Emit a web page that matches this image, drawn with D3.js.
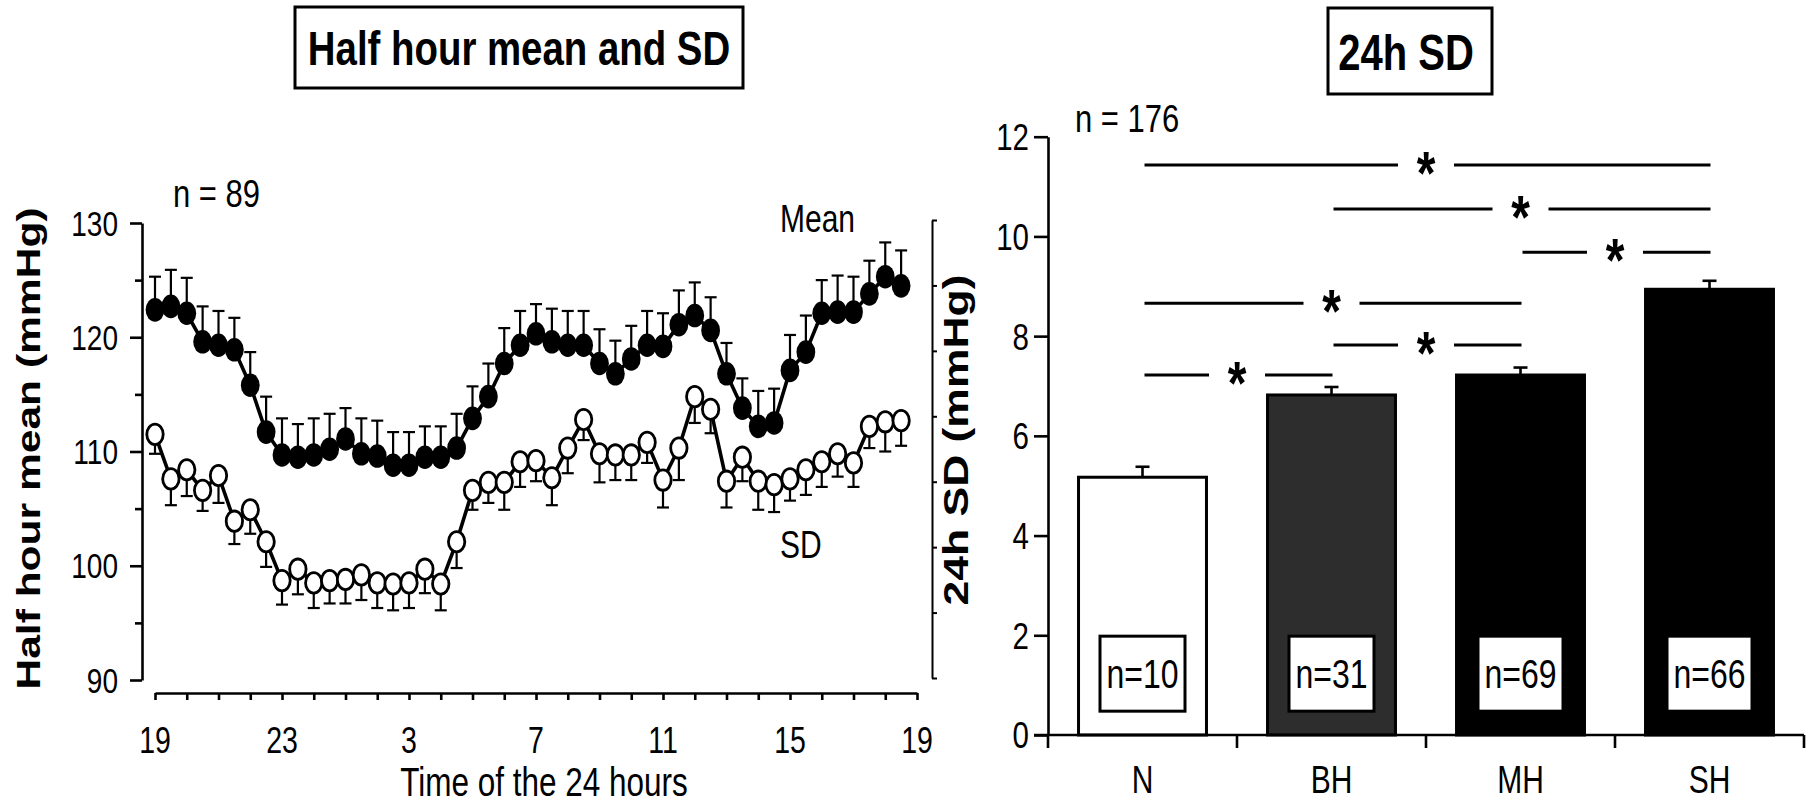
<!DOCTYPE html>
<html><head><meta charset="utf-8">
<script src="https://cdn.jsdelivr.net/npm/d3@7"></script>
<style>
html,body{margin:0;padding:0;background:#fff;}
svg{display:block;}
text{font-family:"Liberation Sans",Arial,sans-serif;fill:#000;}
</style>
</head><body>
<svg id="chart" width="1814" height="805"></svg>
<script>
// ---------- Data: left panel (half-hour values, hours after 19:00) ----------
const slotHours = [0,0.5,1,1.5,2,2.5,3,3.5,4,4.5,5,5.5,6,6.5,7,7.5,8,8.5,9,9.5,10,10.5,11,11.5,
                   12,12.5,13,13.5,14,14.5,15,15.5,16,16.5,17,17.5,18,18.5,19,19.5,20,20.5,21,21.5,22,22.5,23,23.5];
const meanValues = [122.4,122.7,122.1,119.6,119.3,118.9,115.8,111.7,109.7,109.5,
                    109.7,110.2,111.1,109.8,109.6,108.8,108.8,109.5,109.5,110.3,
                    112.9,114.8,117.7,119.3,120.3,119.6,119.3,119.3,117.7,116.8,
                    118.1,119.3,119.2,121.1,121.9,120.6,116.8,113.8,112.2,112.5,
                    117.1,118.7,122.1,122.2,122.2,123.8,125.3,124.5];
const meanErrors = [2.9,3.2,3.1,3.1,3.0,2.8,2.9,3.1,3.2,2.9,
                    3.2,3.1,2.7,3.1,3.1,2.9,2.9,2.7,2.7,3.0,
                    2.8,2.9,3.1,3.0,2.6,2.9,3.0,3.0,3.0,2.9,
                    2.9,3.0,2.9,3.0,2.9,2.9,2.7,2.6,3.1,3.0,
                    3.1,3.2,2.9,3.2,3.1,2.9,3.0,3.1];
const sdValues = [111.5,107.6,108.4,106.6,107.9,103.9,104.9,102.1,98.7,99.7,
                  98.5,98.7,98.8,99.2,98.5,98.4,98.5,99.7,98.4,102.1,
                  106.6,107.3,107.3,109.1,109.2,107.7,110.3,112.8,109.8,109.7,
                  109.7,110.8,107.5,110.3,114.8,113.7,107.4,109.5,107.4,107.1,
                  107.6,108.4,109.1,109.8,109.0,112.2,112.6,112.7];
const sdErrors = [1.7,2.3,2.3,1.8,2.4,2.0,2.1,2.2,2.1,2.2,
                  2.2,2.0,2.1,2.2,2.2,2.3,2.2,2.1,2.3,2.3,
                  1.7,1.8,2.4,2.2,1.8,2.4,2.2,1.8,2.5,2.2,
                  2.2,1.8,2.4,2.8,2.3,2.1,2.3,2.1,2.5,2.4,
                  1.9,2.2,2.2,2.0,2.1,1.9,2.6,2.2];
const xTickHours = [0,4,8,12,16,20,24];
const xTickLabels = ["19","23","3","7","11","15","19"];
const yLeftMajor = [90,100,110,120,130];
const yLeftMinor = [95,105,115,125];

// ---------- Data: right panel ----------
const groups = ["N","BH","MH","SH"];
const sd24 = [5.17,6.82,7.22,8.94];
const sd24Err = [0.21,0.16,0.15,0.17];
const groupN = ["n=10","n=31","n=69","n=66"];
const groupFill = ["#ffffff","#2d2d2d","#000000","#000000"];
const yRightTicks = [0,2,4,6,8,10,12];
const sigFrom = ["N","BH","MH","N","BH","N"];
const sigTo   = ["SH","SH","SH","MH","MH","BH"];
const sigLevel = [11.43,10.55,9.68,8.66,7.82,7.22];

// ---------- Helpers ----------
const SY = 1.27; // vertical stretch of the source picture
const svg = d3.select("#chart");
function label(g, x, y, str, size, opts = {}) {
  return g.append("text")
    .attr("transform", `translate(${x},${y}) scale(1,${SY})` + (opts.rotate ? " rotate(-90)" : ""))
    .attr("text-anchor", opts.anchor || "middle")
    .attr("font-size", size)
    .attr("font-weight", opts.bold ? "bold" : "normal")
    .text(str);
}
function styleAxis(g, w) {
  g.selectAll("path,line").attr("stroke", "#000").attr("stroke-width", w);
  g.selectAll("text").remove();
}

// ================= LEFT PANEL =================
const L = svg.append("g");
const xL = d3.scaleLinear([0, 24], [155, 917]);
const yL = d3.scaleLinear([90, 130], [680, 223]);

// Title box
L.append("rect").attr("x", 295).attr("y", 7).attr("width", 448).attr("height", 81)
  .attr("fill", "none").attr("stroke", "#000").attr("stroke-width", 3);
label(L, 519, 65, "Half hour mean and SD", 38.4, {bold: true});

// Y axis
const gyL = L.append("g").attr("transform", "translate(142,0)")
  .call(d3.axisLeft(yL).tickValues(yLeftMajor).tickSize(12).tickSizeOuter(0));
styleAxis(gyL, 2.6);
const gyLm = L.append("g").attr("transform", "translate(142,0)")
  .call(d3.axisLeft(yL).tickValues(yLeftMinor).tickSize(7).tickSizeOuter(0));
styleAxis(gyLm, 2.6);
gyLm.select(".domain").remove();
yLeftMajor.forEach(v => label(L, 118, yL(v) + 0.716 * 28 * SY / 2, String(v), 28, {anchor: "end"}));

// X axis
const gxL = L.append("g").attr("transform", "translate(0,693)")
  .call(d3.axisBottom(xL).tickValues(d3.range(0, 25)).tickSize(7).tickSizeOuter(0));
styleAxis(gxL, 2.6);
xTickHours.forEach((h, i) => label(L, xL(h), 753, xTickLabels[i], 28.5));
label(L, 544, 796, "Time of the 24 hours", 31.5);
label(L, 40, 448.5, "Half hour mean (mmHg)", 33.5, {bold: true, rotate: true});
label(L, 173, 207, "n = 89", 31, {anchor: "start"});
label(L, 780, 231.7, "Mean", 30, {anchor: "start"});
label(L, 780, 558, "SD", 30, {anchor: "start"});

// Right frame line with small ticks
const yFrame = d3.scaleLinear([0, 7], [678, 220]);
const gFrame = L.append("g").attr("transform", "translate(932,0)")
  .call(d3.axisRight(yFrame).ticks(7).tickSize(5).tickSizeOuter(0));
styleAxis(gFrame, 2);

// Series
const meanData = slotHours.map((h, i) => ({h, v: meanValues[i], e: meanErrors[i]}));
const sdData = slotHours.map((h, i) => ({h, v: sdValues[i], e: sdErrors[i]}));
const line = d3.line().x(d => xL(d.h)).y(d => yL(d.v));
[meanData, sdData].forEach(data => {
  L.append("path").datum(data).attr("d", line)
    .attr("fill", "none").attr("stroke", "#000").attr("stroke-width", 3.6).attr("stroke-linejoin", "round");
});
// error bars: mean upward, SD downward
function errBars(data, dir) {
  const g = L.append("g").attr("stroke", "#000").attr("stroke-width", 2.2);
  g.selectAll("line.s").data(data).join("line")
    .attr("x1", d => xL(d.h)).attr("x2", d => xL(d.h))
    .attr("y1", d => yL(d.v)).attr("y2", d => yL(d.v + dir * d.e));
  g.selectAll("line.c").data(data).join("line")
    .attr("x1", d => xL(d.h) - 6).attr("x2", d => xL(d.h) + 6)
    .attr("y1", d => yL(d.v + dir * d.e)).attr("y2", d => yL(d.v + dir * d.e));
}
errBars(meanData, 1);
errBars(sdData, -1);
L.append("g").selectAll("ellipse").data(meanData).join("ellipse")
  .attr("cx", d => xL(d.h)).attr("cy", d => yL(d.v)).attr("rx", 9.4).attr("ry", 11.8)
  .attr("fill", "#000");
L.append("g").selectAll("ellipse").data(sdData).join("ellipse")
  .attr("cx", d => xL(d.h)).attr("cy", d => yL(d.v)).attr("rx", 8.2).attr("ry", 10.2)
  .attr("fill", "#fff").attr("stroke", "#000").attr("stroke-width", 2.8);

// ================= RIGHT PANEL =================
const R = svg.append("g");
const xB = d3.scaleBand(groups, [1048, 1804]).paddingInner(0.323).paddingOuter(0.1615);
const yB = d3.scaleLinear([0, 12], [735, 136.7]);
const bw = xB.bandwidth();
const cx = g => xB(g) + bw / 2;

R.append("rect").attr("x", 1328).attr("y", 8).attr("width", 164).attr("height", 86)
  .attr("fill", "none").attr("stroke", "#000").attr("stroke-width", 3);
label(R, 1406, 70, "24h SD", 40, {bold: true});
label(R, 1075, 132, "n = 176", 31, {anchor: "start"});
label(R, 968, 440, "24h SD (mmHg)", 35, {bold: true, rotate: true});

// bars
R.append("g").selectAll("rect").data(groups).join("rect")
  .attr("x", g => xB(g)).attr("width", bw)
  .attr("y", (g, i) => yB(sd24[i])).attr("height", (g, i) => yB(0) - yB(sd24[i]))
  .attr("fill", (g, i) => groupFill[i]).attr("stroke", "#000").attr("stroke-width", 3);
// error bars
const ge = R.append("g").attr("stroke", "#000").attr("stroke-width", 2.6);
groups.forEach((g, i) => {
  ge.append("line").attr("x1", cx(g)).attr("x2", cx(g)).attr("y1", yB(sd24[i])).attr("y2", yB(sd24[i] + sd24Err[i]));
  ge.append("line").attr("x1", cx(g) - 7).attr("x2", cx(g) + 7).attr("y1", yB(sd24[i] + sd24Err[i])).attr("y2", yB(sd24[i] + sd24Err[i]));
});
// n boxes
groups.forEach((g, i) => {
  const yc = yB(1.23);
  R.append("rect").attr("x", cx(g) - 42.5).attr("y", yc - 37.5).attr("width", 85).attr("height", 75)
    .attr("fill", "#fff").attr("stroke", "#000").attr("stroke-width", 3);
  label(R, cx(g), yc + 0.716 * 32 * SY / 2, groupN[i], 32);
});

// axes
const gyB = R.append("g").attr("transform", "translate(1048,0)")
  .call(d3.axisLeft(yB).tickValues(yRightTicks).tickSize(14).tickSizeOuter(0));
styleAxis(gyB, 2.6);
yRightTicks.forEach(v => label(R, 1029, yB(v) + 0.716 * 29.5 * SY / 2, String(v), 29.5, {anchor: "end"}));
const step = xB.step(), pIn = xB.paddingInner();
const bounds = groups.map(g => xB(g) - step * pIn / 2).concat([xB(groups[groups.length - 1]) + bw + step * pIn / 2]);
R.append("line").attr("x1", 1034).attr("x2", bounds[bounds.length - 1]).attr("y1", yB(0)).attr("y2", yB(0))
  .attr("stroke", "#000").attr("stroke-width", 2.6);
R.append("g").selectAll("line").data(bounds).join("line")
  .attr("x1", d => d).attr("x2", d => d).attr("y1", yB(0)).attr("y2", yB(0) + 13)
  .attr("stroke", "#000").attr("stroke-width", 2.6);
groups.forEach(g => label(R, cx(g), 793, g, 30));

// significance lines
const gap = 28;
sigFrom.forEach((f, i) => {
  const x1 = cx(f) + 2, x2 = cx(sigTo[i]) + 1, xm = (cx(f) + cx(sigTo[i])) / 2, yy = yB(sigLevel[i]);
  R.append("line").attr("x1", x1).attr("x2", xm - gap).attr("y1", yy).attr("y2", yy).attr("stroke", "#000").attr("stroke-width", 3);
  R.append("line").attr("x1", xm + gap).attr("x2", x2).attr("y1", yy).attr("y2", yy).attr("stroke", "#000").attr("stroke-width", 3);
  label(R, xm, yy - 6 + 0.57 * 48 * SY, "*", 48, {bold: true});
});
</script>
</body></html>
